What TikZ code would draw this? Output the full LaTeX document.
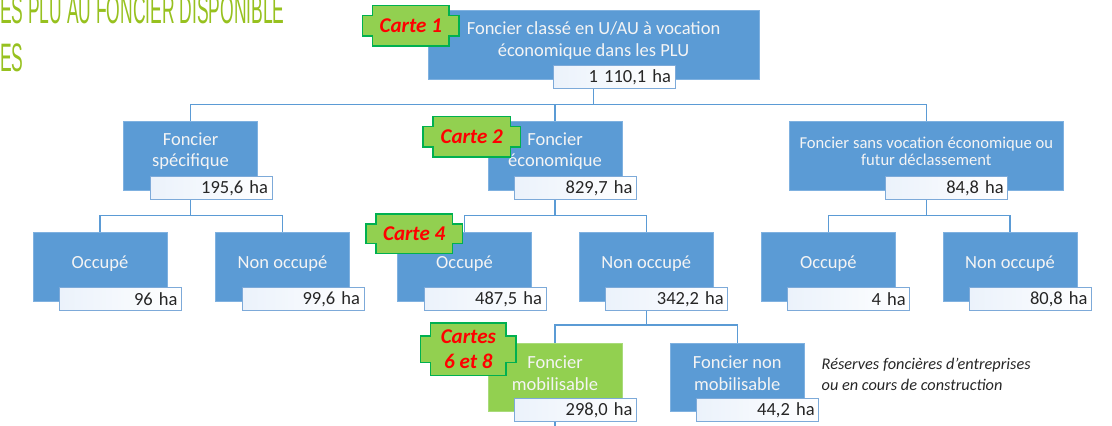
\documentclass[tikz,border=0pt]{standalone}
\usepackage{fontspec}
\setmainfont{Carlito}
\newfontfamily\titlefont[FakeStretch=0.44]{Liberation Sans}
\usetikzlibrary{calc}
\definecolor{boxblue}{HTML}{5B9BD5}
\definecolor{boxedge}{HTML}{7FB1E0}
\definecolor{boxtext}{HTML}{F4F4F4}
\definecolor{valleft}{HTML}{EBF2FB}
\definecolor{valedge}{HTML}{7DAAD9}
\definecolor{valtext}{HTML}{262626}
\definecolor{badgegreen}{HTML}{92D050}
\definecolor{badgeedge}{HTML}{00B050}
\definecolor{mobedge}{HTML}{A9DB7A}
\definecolor{titlegreen}{HTML}{97C11F}
\definecolor{badgered}{HTML}{FF0000}
\pgfdeclarelayer{bg}\pgfdeclarelayer{fg}\pgfdeclarelayer{fgtext}
\pgfsetlayers{bg,main,fg,fgtext}
\newcommand{\notchoutline}[3]{%
  \draw[badgeline] ([xshift=#2]#1.north west) -- ([xshift=-#2]#1.north east)
    -- ++(0pt,-#3) -- ++(#2,0pt) -- ([yshift=#3]#1.south east) -- ++(-#2,0pt)
    -- ++(0pt,-#3) -- ([xshift=#2]#1.south west) -- ++(0pt,#3) -- ++(-#2,0pt)
    -- ([yshift=-#3]#1.north west) -- ++(#2,0pt) -- cycle;}
\tikzset{
  bx/.style={fill=boxblue, draw=boxedge, line width=0.6pt, minimum height=68.5pt, inner sep=0pt},
  narrow/.style={minimum width=134pt},
  bt/.style={text=boxtext, align=center, font=\fontsize{18.5}{21.5}\selectfont, inner sep=0pt},
  btsmall/.style={text=boxtext, align=center, font=\fontsize{16.6}{17.5}\selectfont, inner sep=0pt},
  val/.style={left color=valleft, right color=white, draw=valedge, line width=0.8pt,
    minimum height=23pt, text width=114pt, inner xsep=4pt, inner ysep=0pt, align=right,
    text=valtext, font=\fontsize{18.5}{22}\selectfont},
  conn/.style={draw=boxblue, line width=1.2pt},
  badge/.style={text=badgered, font=\fontsize{21}{25}\selectfont\bfseries\itshape, align=center, inner sep=0pt},
  badgeline/.style={fill=badgegreen, draw=badgeedge, line width=1.5pt},
  note/.style={text=valtext, font=\fontsize{16.3}{21}\selectfont\itshape, align=left, inner sep=0pt},
  ttl/.style={text=titlegreen, font=\titlefont\fontsize{39.7}{40}\selectfont, inner sep=0pt}
}
\begin{document}
\begin{tikzpicture}[x=1pt,y=-1pt]
\useasboundingbox (0,0) rectangle (1112,426);
% title
\node[ttl, anchor=base west] (t1) at (0,23) {ES PLU AU FONCIER DISPONIBLE};
\node[ttl, anchor=base west] (t2) at (0,71.7) {ES};
% boxes
\node[bx, minimum width=331pt] (top) at (593.5,45) {};
\node[bx, narrow] (fs) at (190.5,155.8) {};
\node[bx, narrow] (econ) at (555,155.8) {};
\node[bx, minimum width=274pt] (fsv) at (926.3,155.8) {};
\node[bx, narrow] (occ1) at (100,266.8) {};
\node[bx, narrow] (non1) at (282.5,266.8) {};
\node[bx, narrow] (occ2) at (464.5,266.8) {};
\node[bx, narrow] (non2) at (646.3,266.8) {};
\node[bx, narrow] (occ3) at (828.3,266.8) {};
\node[bx, narrow] (non3) at (1010,266.8) {};
\node[bx, narrow, fill=badgegreen, draw=mobedge] (mob) at (555,377.5) {};
\node[bx, narrow] (nonmob) at (737.2,377.5) {};
% box texts
\node[bt] (top-t) at ([yshift=4.5pt]top.center) {Foncier classé en U/AU à vocation\\économique dans les PLU};
\node[bt] (fs-t) at ([yshift=4.5pt]fs.center) {Foncier\\spécifique};
\node[bt] (econ-t) at ([yshift=4.5pt]econ.center) {Foncier\\économique};
\node[btsmall] (fsv-t) at ([yshift=4.5pt]fsv.center) {Foncier sans vocation économique ou\\futur déclassement};
\node[bt] (occ1-t) at ([yshift=3.5pt]occ1.center) {Occupé};
\node[bt] (non1-t) at ([yshift=3.5pt]non1.center) {Non occupé};
\node[bt] (occ2-t) at ([yshift=3.5pt]occ2.center) {Occupé};
\node[bt] (non2-t) at ([yshift=3.5pt]non2.center) {Non occupé};
\node[bt] (occ3-t) at ([yshift=3.5pt]occ3.center) {Occupé};
\node[bt] (non3-t) at ([yshift=3.5pt]non3.center) {Non occupé};
\node[bt] (mob-t) at ([yshift=4.2pt]mob.center) {Foncier\\mobilisable};
\node[bt] (nonmob-t) at ([yshift=4.2pt]nonmob.center) {Foncier non\\mobilisable};
% value boxes
\node[val] (top-v) at ([xshift=20.5pt,yshift=2.2pt]top.south) {1 110,1 ha};
\node[val] (fs-v) at ([xshift=20.5pt,yshift=2.2pt]fs.south) {195,6 ha};
\node[val] (econ-v) at ([xshift=20.5pt,yshift=2.2pt]econ.south) {829,7 ha};
\node[val] (fsv-v) at ([xshift=20.5pt,yshift=2.2pt]fsv.south) {84,8 ha};
\node[val] (occ1-v) at ([xshift=20.5pt,yshift=2.2pt]occ1.south) {96 ha};
\node[val] (non1-v) at ([xshift=20.5pt,yshift=2.2pt]non1.south) {99,6 ha};
\node[val] (occ2-v) at ([xshift=20.5pt,yshift=2.2pt]occ2.south) {487,5 ha};
\node[val] (non2-v) at ([xshift=20.5pt,yshift=2.2pt]non2.south) {342,2 ha};
\node[val] (occ3-v) at ([xshift=20.5pt,yshift=2.2pt]occ3.south) {4 ha};
\node[val] (non3-v) at ([xshift=20.5pt,yshift=2.2pt]non3.south) {80,8 ha};
\node[val] (mob-v) at ([xshift=20.5pt,yshift=2.2pt]mob.south) {298,0 ha};
\node[val] (nonmob-v) at ([xshift=20.5pt,yshift=2.2pt]nonmob.south) {44,2 ha};
% note
\node[note, anchor=west] (note) at (821.5,374.5) {Réserves foncières d’entreprises\\ou en cours de construction};
% badges
\begin{pgfonlayer}{fgtext}
\node[badge, minimum width=96.3pt, minimum height=40pt] (c1) at (410.8,25.7) {Carte 1};
\node[badge, minimum width=96.7pt, minimum height=40pt] (c2) at (471.7,136.7) {Carte 2};
\node[badge, minimum width=96.3pt, minimum height=39pt] (c4) at (414.2,233.8) {Carte 4};
\node[badge, minimum width=95.3pt, minimum height=51.7pt] (c68) at (468.3,349.2) {Cartes\\6 et 8};
\end{pgfonlayer}
\begin{pgfonlayer}{fg}
\notchoutline{c1}{10pt}{10pt}
\notchoutline{c2}{10pt}{10pt}
\notchoutline{c4}{10pt}{10pt}
\notchoutline{c68}{10pt}{13pt}
\end{pgfonlayer}
% connectors
\coordinate (bus1) at (0,104.3);
\coordinate (bus2) at (0,215.5);
\coordinate (bus3) at (0,325);
\coordinate (offb) at (555,440);
\begin{pgfonlayer}{bg}
\draw[conn] (top.south) -- (top.south |- bus1) -| (fs.north);
\draw[conn] (top.south |- bus1) -| (econ.north);
\draw[conn] (top.south |- bus1) -| (fsv.north);
\draw[conn] (fs.south) -- (fs.south |- bus2) -| (occ1.north);
\draw[conn] (fs.south |- bus2) -| (non1.north);
\draw[conn] (econ.south) -- (econ.south |- bus2) -| (occ2.north);
\draw[conn] (econ.south |- bus2) -| (non2.north);
\draw[conn] (fsv.south) -- (fsv.south |- bus2) -| (occ3.north);
\draw[conn] (fsv.south |- bus2) -| (non3.north);
\draw[conn] (non2.south) -- (non2.south |- bus3) -| (mob.north);
\draw[conn] (non2.south |- bus3) -| (nonmob.north);
\draw[conn] (mob.south) -- (offb);
\end{pgfonlayer}
\end{tikzpicture}
\end{document}
